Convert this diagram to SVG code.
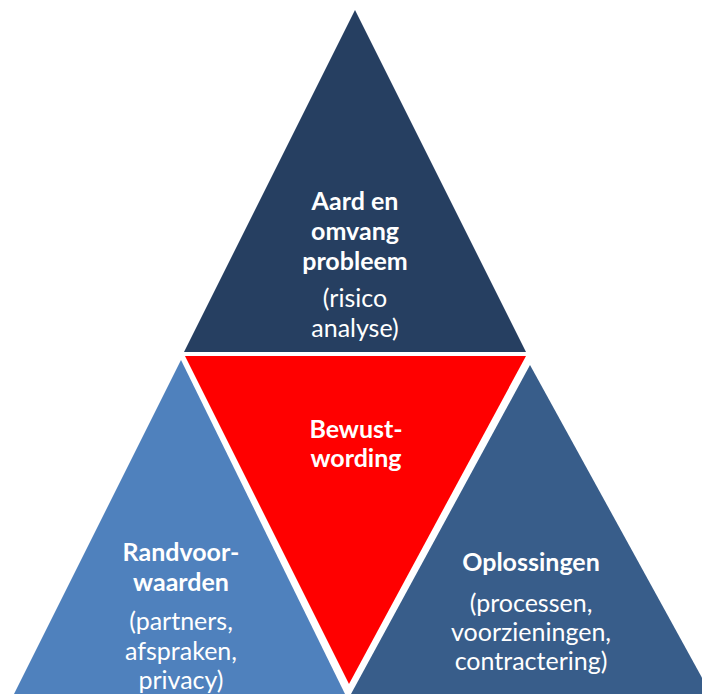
<svg xmlns="http://www.w3.org/2000/svg" width="702" height="694" viewBox="0 0 702 694">
<style>
.t{font-family:Lato,"Open Sans","Liberation Sans",sans-serif;font-size:25px;fill:#ffffff;text-anchor:middle}
.b{font-weight:bold}
</style>
<rect width="702" height="694" fill="#ffffff"/>
<g id="top">
<polygon points="355,10 184,352 526,352" fill="#263F61"/>
<text class="t b" x="355" y="210">Aard en</text>
<text class="t b" x="355" y="240">omvang</text>
<text class="t b" x="355" y="270">probleem</text>
<text class="t" x="355" y="307">(risico</text>
<text class="t" x="355" y="337">analyse)</text>
</g>
<g id="center">
<polygon points="185,356 526,356 349,684" fill="#FF0000"/>
<text class="t b" x="356" y="438">Bewust-</text>
<text class="t b" x="356" y="467">wording</text>
</g>
<g id="left">
<polygon points="181,360 14,694 345,694" fill="#4F81BD"/>
<text class="t b" x="181" y="561">Randvoor-</text>
<text class="t b" x="181" y="591">waarden</text>
<text class="t" x="181" y="630">(partners,</text>
<text class="t" x="181" y="660">afspraken,</text>
<text class="t" x="181" y="689">privacy)</text>
</g>
<g id="right">
<polygon points="530,365 351,694 711,694" fill="#385D8A"/>
<text class="t b" x="531" y="571">Oplossingen</text>
<text class="t" x="531" y="612">(processen,</text>
<text class="t" x="531" y="641">voorzieningen,</text>
<text class="t" x="531" y="670">contractering)</text>
</g>
<g id="connectors"></g>
</svg>
